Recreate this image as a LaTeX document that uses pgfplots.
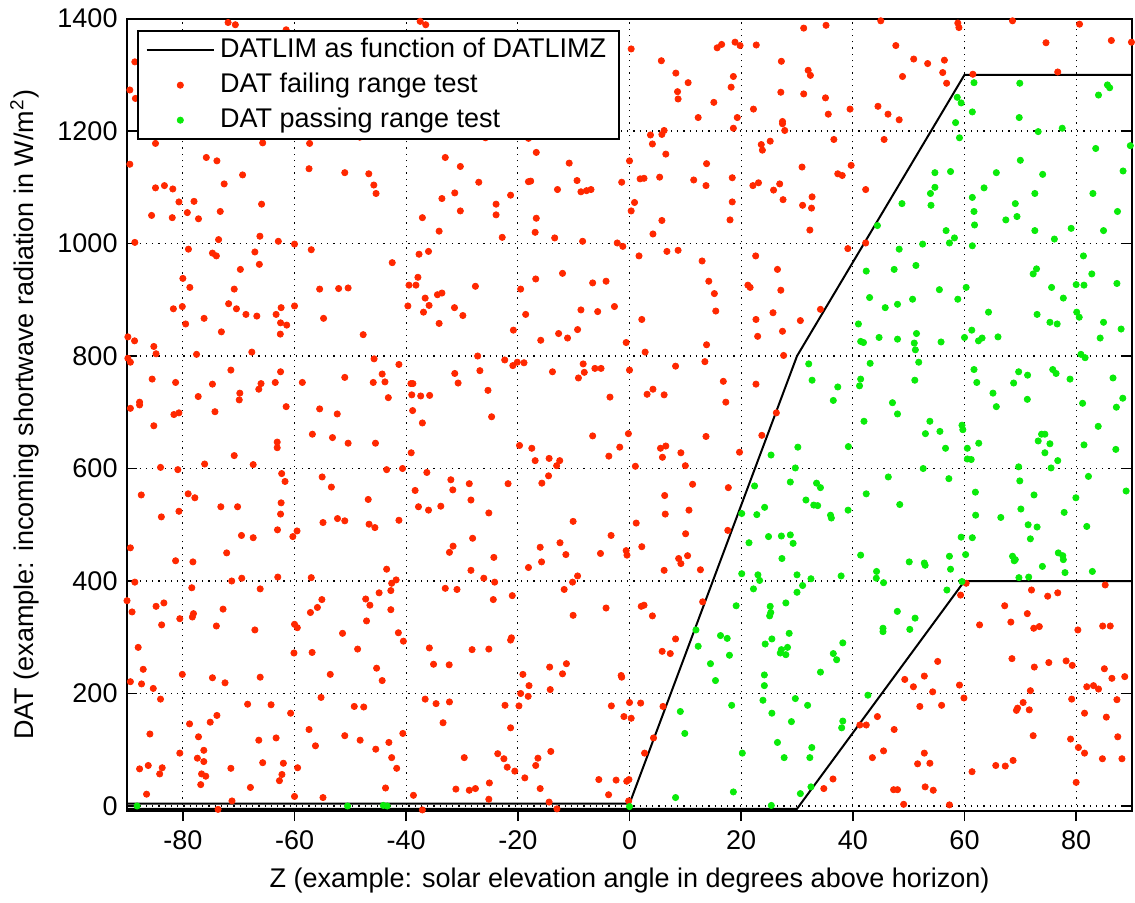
\documentclass[border=0pt]{standalone}
\usepackage{fontspec}
\setmainfont{Liberation Sans}
\usepackage{pgfplots}
\pgfplotsset{compat=1.18}
\definecolor{mred}{RGB}{255,40,0}
\definecolor{mgreen}{RGB}{10,235,10}
\pgfplotsset{
    linelegend/.style={legend image code/.code={\draw[##1] (0pt,0pt) -- (27pt,0pt);}},
    dotlegend/.style={legend image code/.code={\draw[mark repeat=2,mark phase=2,##1] plot coordinates {(0pt,0pt) (13.5pt,0pt) (27pt,0pt)};}},
}

\begin{document}
\fontsize{10.8}{13}\selectfont
\begin{tikzpicture}
\begin{axis}[
    scale only axis,
    width=402pt, height=317pt,
    xmin=-90, xmax=90, ymin=-9, ymax=1400,
    xtick={-80,-60,...,80},
    ytick={0,200,...,1400},
    ytick align=inside,
    xtick align=outside,
    xtick pos=left,
    major tick length=4pt,
    every tick/.style={black, line width=0.6pt},
    axis line style={line width=0.8pt},
    grid=major,
    grid style={black, line width=0.5pt, dash pattern=on 0.5pt off 2pt},
    /pgf/number format/assume math mode=true,
    /pgf/number format/1000 sep={},
    xlabel={Z (example: solar elevation angle in degrees above horizon)},
    ylabel={DAT (example: incoming shortwave radiation in W/m\textsuperscript{2})},
    legend style={at={(0.01,0.985)}, anchor=north west, draw=black, line width=0.8pt,
        fill=white, inner xsep=3pt, inner ysep=0.5pt, row sep=0pt,
        nodes={text height=8.5pt, text depth=2.5pt, inner ysep=1.5pt}},
    legend cell align=left,
]
% DATLIM lines
\addplot[black, line width=0.8pt, linelegend]
    coordinates {(-90,4) (0,4) (30,800) (60,1300) (90,1300)};
\addlegendentry{DATLIM as function of DATLIMZ}
\addplot[black, line width=0.8pt, forget plot]
    coordinates {(-90,-5) (30,-5) (60,400) (90,400)};

% failing points
\addplot[only marks, mark=*, mark size=1.25pt, color=mred, line width=0.3pt, dotlegend]
table {
x y
-71.9 1393
-70.6 1389
-88.6 1323
-89.5 1273
-88.5 1258
-61.5 1380
-84.9 1178
-65.7 1179
-57.3 1178
-48.3 1189
-89.5 1141
-75.8 1153
-73.9 1147
-69.3 1122
-57.4 1133
-51.0 1126
-46.7 1124
-45.8 1104
-84.9 1099
-83.3 1103
-81.8 1097
-72.6 1106
-80.7 1074
-78.0 1075
-65.9 1070
-85.6 1050
-81.9 1046
-79.2 1055
-77.2 1044
-73.3 1057
-88.6 1002
-73.6 1007
-66.2 1013
-62.9 1004
-60.0 999
-57.0 989
-79.0 990
-74.7 983
-74.0 978
-67.1 985
-66.3 963
-69.7 954
-80.0 938
-45.4 1089
-37.5 1395
-36.5 1389
-25.8 1188
-18.1 1187
-16.7 1162
-33.0 1153
-30.3 1137
-10.8 1143
0.0 1147
-27.0 1109
-18.1 1110
-17.7 1111
-9.4 1112
-1.4 1109
-12.9 1096
-8.7 1092
-7.7 1094
-6.9 1096
-31.3 1090
-33.6 1080
-21.3 1086
-23.9 1070
-30.3 1058
-23.9 1051
-37.1 1046
-16.7 1045
-34.1 1022
-16.9 1020
-22.8 1011
-13.4 1010
-8.4 1004
-2.2 1001
-1.2 995
-42.5 966
-37.7 981
-36.0 986
-37.9 940
-16.8 937
-12.0 947
-6.6 930
-4.2 933
31.2 1383
35.2 1388
45.0 1396
0.3 1346
5.7 1325
15.7 1348
16.5 1354
18.9 1358
19.8 1352
22.7 1353
27.2 1324
32.0 1308
32.4 1299
8.3 1303
10.5 1286
18.6 1297
18.2 1278
8.6 1270
8.7 1257
27.1 1269
31.2 1266
35.1 1259
44.5 1244
39.5 1239
15.1 1251
22.2 1239
35.6 1230
12.3 1224
19.3 1224
27.4 1217
27.4 1213
27.8 1201
18.6 1205
3.75 1193
5.8 1194
6.2 1201
4.1 1177
6.5 1159
23.6 1176
23.8 1166
25.2 1182
36.6 1185
45.6 1185
13.8 1142
39.7 1139
30.9 1136
1.9 1115
2.6 1116
5.4 1118
11.5 1113
18.4 1117
13.7 1103
22.1 1103
23.1 1108
26.9 1106
37.3 1124
38.1 1121
42.3 1096
25.8 1095
27.5 1078
32.7 1083
31.0 1068
32.6 1063
0.9 1073
0.3 1058
18.4 1074
5.8 1041
18.0 1042
32.3 1024
4.2 1017
39.1 991
42.3 1001
1.7 978
6.7 986
8.7 988
13.0 969
22.6 978
26.5 954
14.2 933
58.8 1392
59.0 1384
68.6 1396
80.6 1390
47.7 1352
74.6 1357
86.3 1361
89.9 1358
50.9 1328
53.4 1320
56.4 1326
56.1 1304
48.9 1297
56.8 1285
61.5 1301
76.7 1305
46.3 1230
48.3 1220
-78.75 922
-70.8 919
-55.5 919
-52.1 920
-50.4 921
-81.7 884
-80.1 888
-71.8 893
-70.4 884
-68.7 874
-66.75 871
-63.3 874
-62.4 886
-60.0 889
-76.2 867
-54.8 867
-79.5 857
-62.5 859
-61.4 855
-73.1 843
-62.55 839
-47.7 838
-89.85 834
-88.65 827
-85.2 817
-84.8 804
-77.55 803
-67.65 807
-89.85 796
-89.4 789
-45.75 795
-71.4 775
-62.5 772
-85.5 759
-81.3 753
-74.7 750
-66.0 751
-66.4 741
-63.45 753
-58.6 753
-51.0 762
-45.9 753
-69.8 734
-69.9 722
-77.25 728
-87.75 718
-87.75 713
-89.4 707
-81.6 696
-80.7 699
-74.25 701
-61.5 710
-55.5 706
-52.35 697
-85.2 676
-56.8 661
-53.2 655
-50.4 645
-45.5 645
-63.1 647
-63.1 637
-70.8 623
-76.1 608
-67.4 607
-84.0 602
-80.9 598
-62.3 591
-61.7 577
-55.05 585
-53.4 567
-87.45 553
-79.05 555
-77.85 548
-46.8 545
-73.2 532
-70.2 532
-62.4 539
-80.7 524
-62.5 519
-83.85 514
-54.9 504
-52.3 511
-51.0 507
-46.65 501
-45.6 495
-63.05 491
-59.55 489
-60.3 479
-69.5 481
-67.4 477
-89.4 459
-39.5 926
-38.25 926
-27.6 924
-19.5 919
-36.6 903
-34.4 909
-33.6 912
-39.7 889
-35.9 890
-36.9 878
-31.35 886
-29.85 872
-34.1 858
-18.6 874
-8.7 882
-5.7 879
-2.7 888
-20.8 846
-15.9 828
-12.7 840
-11.1 832
-9.3 847
-0.6 824
-41.3 785
-27.2 800
-22.35 793
-20.9 783
-20.1 789
-18.9 788
-8.3 786
-44.3 768
-43.8 754
-31.3 769
-30.7 752
-26.8 774
-13.8 772
-9.15 761
-8.1 771
-6.2 778
-5.1 778
0.0 775
-39.15 751
-38.8 751
-39.0 731
-37.4 729
-35.8 730
-25.35 739
-43.2 726
-3.5 727
-38.85 703
-37.1 681
-24.7 692
-6.6 658
-0.2 662
-1.75 638
-3.7 622
-39.1 628
-19.7 641
-17.5 636
-16.9 614
-14.4 618
-12.5 614
-13.05 605
-43.5 598
-40.65 600
-36.3 593
-32.0 580
-31.65 562
-28.7 573
-21.75 573
-14.5 587
-15.7 574
-38.4 561
-28.4 544
-37.8 532
-36.0 526
-33.8 533
-25.2 521
-41.3 508
-10.1 506
-3.3 481
-28.1 476
-31.6 462
-16.0 460
-12.45 468
21.2 926
21.6 922
27.1 917
15.2 911
15.45 880
2.2 865
22.65 865
25.7 877
30.6 863
34.2 883
22.95 835
27.4 844
13.8 820
2.8 807
27.6 801
13.5 790
8.25 782
16.8 755
22.65 750
4.2 741
3.15 732
6.2 731
17.25 718
26.3 699
13.7 657
23.7 659
5.55 636
6.5 640
5.9 620
9.2 628
19.7 629
1.05 604
10.0 605
11.3 572
17.7 566
6.3 552
6.4 519
10.65 526
1.2 503
10.05 484
17.6 490
2.2 461
-72.15 450
-81.3 436
-78.2 434
-88.6 398
-71.25 400
-69.45 405
-63.0 407
-57.0 406
-78.4 388
-66.15 386
-90.0 365
-89.1 345
-84.8 355
-83.4 361
-80.55 333
-78.1 342
-78.3 336
-72.8 350
-74.0 320
-83.8 322
-67.1 313
-60.0 323
-59.5 317
-57.15 344
-55.9 353
-55.1 367
-47.25 368
-46.5 357
-47.1 329
-51.4 307
-48.7 279
-88.0 282
-60.1 272
-56.85 273
-45.3 245
-87.1 243
-80.1 234
-74.7 228
-66.15 229
-72.45 219
-53.6 234
-89.4 221
-87.4 217
-85.3 209
-84.0 190
-55.25 193
-68.4 181
-64.2 180
-49.3 177
-47.6 176
-60.7 165
-73.9 161
-75.1 149
-78.8 146
-57.4 136
-85.9 128
-77.2 123
-66.4 117
-63.3 121
-51.0 125
-48.25 117
-45.45 101
-56.25 107
-76.25 99
-80.55 94
-77.4 85
-76.25 79
-65.7 77
-62.0 76
-87.75 66
-86.2 72
-83.7 68
-84.15 57
-71.4 67
-59.45 68
-76.65 57
-75.9 53
-62.25 56
-62.7 45
-76.8 38
-67.9 33
-86.5 21
-71.2 9
-60.0 17
-54.9 15
-73.7 -6
-32.25 451
-24.3 442
-11.4 447
-15.75 434
-5.2 449
-0.6 454
-0.45 446
-43.5 421
-28.4 419
-18.1 424
-26.1 405
-24.15 398
-42.6 396
-41.8 402
-44.85 379
-42.75 383
-9.3 409
-10.2 398
-11.7 385
-33.0 387
-30.9 385
-24.4 367
-21.0 374
-42.75 349
-4.2 352
-10.1 339
-41.4 308
-40.5 293
-21.15 299
-21.3 295
-35.85 281
-28.2 278
-25.2 279
-35.1 252
-32.3 251
-14.3 247
-11.3 253
-19.1 234
-12.0 235
-1.5 232
-1.4 229
-44.3 223
-18.0 214
-14.2 207
-19.5 200
-18.15 195
-36.6 190
-34.65 182
-32.25 185
-22.3 179
-19.8 178
-3.25 178
0.0 184
-1.0 159
-33.4 148
-21.3 139
-40.6 129
-43.1 113
-42.6 86
-14.1 97
-29.6 86
-23.6 93
-22.5 84
-16.4 85
-16.8 72
-21.9 69
-20.55 62
-41.7 67
-18.75 50
-5.5 47
-2.4 46
-0.5 44
-0.1 47
-43.7 32
-38.7 19
-31.1 30
-28.7 28
-27.6 31
-25.1 41
-16.0 31
-3.75 20
-25.2 12
-14.4 7
-0.15 9
-37.1 -7
-13.0 -5
8.8 440
9.2 431
10.4 445
6.2 419
12.7 420
13.1 363
2.1 355
2.6 357
4.1 338
8.25 297
5.85 275
7.3 271
2.0 183
6.0 177
0.3 156
4.3 121
2.7 94
36.45 48
34.8 31
41.25 144
42.4 144
44.4 159
43.5 86
45.5 98
60.3 396
59.3 375
72.0 384
74.9 373
76.7 379
85.2 393
67.2 356
71.25 342
68.3 327
62.7 322
72.4 316
73.4 319
80.3 313
84.75 320
86.1 320
55.2 257
68.5 262
72.5 247
75.1 255
78.2 258
79.3 250
85.05 244
86.4 227
88.7 230
49.3 225
52.8 231
50.85 212
59.1 215
54.3 203
59.9 192
71.8 205
81.9 212
83.1 214
84.0 208
52.0 177
55.9 179
70.5 184
69.3 170
69.5 174
71.6 171
79.2 190
87.3 189
81.5 165
85.4 158
47.4 136
72.3 125
79.0 119
87.45 123
52.8 94
51.6 75
53.8 76
80.4 104
81.5 94
68.7 81
65.6 72
67.3 71
84.7 84
88.2 84
61.35 61
80.0 42
47.3 29
48.0 29
52.95 34
54.4 28
49.1 3
57.3 2
};
\addlegendentry{DAT failing range test}

% passing points
\addplot[only marks, mark=*, mark size=1.25pt, color=mgreen, line width=0.3pt, dotlegend]
table {
x y
44.4 1032
42.4 951
61.7 1286
69.9 1285
85.6 1282
86.0 1277
84.0 1264
58.7 1260
59.4 1250
61.4 1234
69.8 1224
58.4 1215
77.5 1205
73.2 1199
59.1 1188
83.5 1169
89.7 1174
70.0 1148
54.7 1126
57.5 1128
65.7 1126
74.0 1123
88.4 1129
54.7 1100
53.9 1089
63.5 1099
72.6 1089
83.0 1089
48.8 1071
54.0 1068
61.4 1082
69.1 1071
61.7 1057
69.4 1048
67.4 1042
61.8 1033
87.4 1057
56.7 1023
58.2 1010
57.3 1001
72.6 1023
79.1 1027
84.9 1023
76.1 1008
52.5 999
61.4 996
48.3 990
47.4 954
51.3 961
81.3 978
72.9 955
72.3 946
82.8 946
43.0 904
41.0 857
41.4 826
41.9 824
44.7 833
43.1 787
32.1 786
32.7 757
37.3 745
41.4 759
41.2 747
36.5 721
42.0 684
30.15 638
25.35 624
39.2 639
29.7 601
22.4 569
28.8 576
33.5 574
34.2 566
42.4 555
31.6 544
33.0 535
33.7 534
24.2 531
20.1 520
22.8 518
36.0 517
36.15 512
39.15 526
21.4 468
24.9 479
27.2 480
28.8 482
29.3 467
55.5 918
60.3 922
75.6 922
80.0 927
81.4 926
87.3 929
45.8 886
48.0 892
50.7 901
58.8 901
77.7 903
64.3 878
73.0 874
75.3 860
76.6 857
80.1 878
80.55 869
84.9 860
88.05 848
84.3 832
48.0 830
51.4 840
51.0 823
51.2 811
55.8 825
60.0 833
61.3 846
62.5 827
63.15 832
66.0 834
51.8 789
80.85 803
81.6 797
61.7 776
62.2 753
69.7 772
71.3 766
75.8 776
76.4 769
78.9 759
86.6 761
68.8 752
51.1 757
65.1 734
65.7 710
71.25 723
47.1 717
48.0 697
81.15 716
88.35 725
87.2 709
53.8 684
53.0 662
55.6 666
59.55 677
59.7 669
56.6 636
60.5 636
62.55 645
60.5 617
61.2 616
73.8 661
74.4 661
73.2 649
75.3 644
74.4 628
76.7 614
83.95 675
81.4 642
87.1 634
46.35 585
52.6 600
57.2 582
69.7 603
75.5 601
69.9 578
61.95 558
72.45 553
82.2 586
79.95 548
88.95 560
48.4 536
62.0 517
66.5 513
70.1 528
77.85 522
71.4 500
73.0 496
81.9 497
59.4 478
61.4 477
71.8 475
-88.2 0
-50.5 0
-44.1 1
-43.4 0
0.0 -1
27.3 440
41.4 446
20.1 413
23.0 411
23.3 401
30.0 411
32.5 404
37.9 409
44.25 417
44.2 405
45.5 397
22.2 386
31.0 392
30.0 380
28.0 361
19.1 356
25.2 355
25.3 344
25.1 338
11.9 313
28.6 307
16.3 303
17.5 298
25.5 297
24.3 288
38.2 290
12.3 284
28.3 282
27.2 278
27.0 272
28.0 269
17.9 268
36.5 271
37.1 260
14.5 253
45.4 316
45.4 310
34.2 238
24.15 233
15.4 223
24.15 214
23.9 188
29.7 191
31.9 179
18.3 179
9.1 168
25.5 165
29.0 150
38.2 151
38.0 139
9.9 129
26.5 113
32.65 104
20.2 94
27.7 86
32.3 86
42.7 197
18.6 25
8.25 15
30.6 22
32.5 34
25.4 1
57.3 444
60.2 447
50.1 434
52.8 432
52.95 428
57.5 421
68.6 444
69.1 438
68.9 436
73.95 426
76.8 450
77.6 445
77.7 438
78.0 415
82.9 417
69.75 406
71.5 407
59.55 399
56.85 384
47.97 346
51.15 334
50.2 314
};
\addlegendentry{DAT passing range test}

\coordinate (bbll) at (rel axis cs:-0.1264,-0.1048);
\coordinate (bbur) at (rel axis cs:1.003,1.0189);
\end{axis}
\path (bbll) rectangle (bbur);
\end{tikzpicture}
\end{document}
